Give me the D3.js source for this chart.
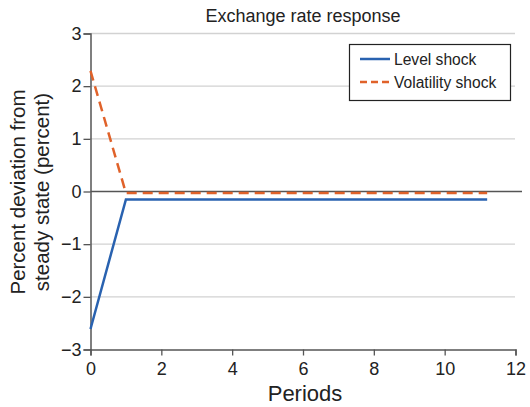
<!DOCTYPE html>
<html><head><meta charset="utf-8">
<script src="https://cdn.jsdelivr.net/npm/d3@7"></script>
<style>body{margin:0;background:#fff;} text{font-family:"Liberation Sans",Arial,sans-serif;fill:#222;}</style>
</head><body>
<svg id="c" width="530" height="407"></svg>
<script>
const periods = [0,1,2,3,4,5,6,7,8,9,10,11.2];
const levelShock = [-2.61,-0.15,-0.15,-0.15,-0.15,-0.15,-0.15,-0.15,-0.15,-0.15,-0.15,-0.15];
const volatilityShock = [2.29,-0.03,-0.03,-0.03,-0.03,-0.03,-0.03,-0.03,-0.03,-0.03,-0.03,-0.03];
const xTicks = [0,2,4,6,8,10,12];
const yTicks = [-3,-2,-1,0,1,2,3];
const seriesNames = ["Level shock","Volatility shock"];
const colors = ["#2962b0","#e0622a"];

const svg = d3.select("#c");
const x = d3.scaleLinear().domain([0,12]).range([90.5,515.5]);
const y = d3.scaleLinear().domain([-3,3]).range([349.5,33.5]);

// gridlines
svg.append("g").selectAll("line").data(yTicks.filter(d=>d!==0 && d!==-3)).join("line")
  .attr("x1",x(0)).attr("x2",515).attr("y1",d=>y(d)).attr("y2",d=>y(d))
  .attr("stroke","#d2d2d2").attr("stroke-width",1.3);
// zero line
svg.append("line").attr("x1",x(0)).attr("x2",522).attr("y1",y(0)).attr("y2",y(0))
  .attr("stroke","#555").attr("stroke-width",1.3);

// axes
const ya = svg.append("g").attr("transform",`translate(${x(0)},0)`)
  .call(d3.axisLeft(y).tickValues(yTicks).tickSize(7).tickPadding(2).tickFormat(d=>d<0?"\u2212"+Math.abs(d):d));
ya.select(".domain").attr("stroke","#555").attr("stroke-width",1.5);
ya.selectAll(".tick line").attr("stroke","#555").attr("stroke-width",1.3);
ya.selectAll("text").style("font-size","18px").attr("fill","#222").style("font-family","Liberation Sans, Arial, sans-serif");

const xa = svg.append("g").attr("transform",`translate(0,${y(-3)})`)
  .call(d3.axisBottom(x).tickValues(xTicks).tickSize(6).tickPadding(7).tickFormat(d3.format("d")));
xa.select(".domain").attr("stroke","#555").attr("stroke-width",1.5);
xa.selectAll(".tick line").attr("stroke","#555").attr("stroke-width",1.3);
xa.selectAll("text").style("font-size","18px").attr("fill","#222").style("font-family","Liberation Sans, Arial, sans-serif");

// lines
const line = d3.line().x((d,i)=>x(periods[i])).y(d=>y(d));
svg.append("path").datum(levelShock).attr("d",line).attr("fill","none")
  .attr("stroke",colors[0]).attr("stroke-width",2.5);
svg.append("path").datum(volatilityShock).attr("d",line).attr("fill","none")
  .attr("stroke",colors[1]).attr("stroke-width",2.5).attr("stroke-dasharray","10,6");

// title & labels
svg.append("text").attr("x",303).attr("y",22).attr("text-anchor","middle").style("font-size","18px").text("Exchange rate response");
svg.append("text").attr("x",305).attr("y",401).attr("text-anchor","middle").style("font-size","22px").text("Periods");
const yl = svg.append("text").attr("transform","translate(0,192) rotate(-90)").attr("text-anchor","middle").style("font-size","20.5px");
yl.append("tspan").attr("x",0).attr("y",25).text("Percent deviation from");
yl.append("tspan").attr("x",0).attr("y",49).text("steady state (percent)");

// legend
const lg = svg.append("g");
lg.append("rect").attr("x",349.5).attr("y",44.5).attr("width",161).attr("height",56)
  .attr("fill","#fff").attr("stroke","#222").attr("stroke-width",1.2);
seriesNames.forEach((n,i)=>{
  const yy = 59 + i*23;
  lg.append("line").attr("x1",360).attr("x2",390).attr("y1",yy).attr("y2",yy)
    .attr("stroke",colors[i]).attr("stroke-width",2.5).attr("stroke-dasharray",i===1?"7,4":null);
  lg.append("text").attr("x",394).attr("y",yy+5.5).style("font-size","15.6px").text(n);
});
</script>
</body></html>
